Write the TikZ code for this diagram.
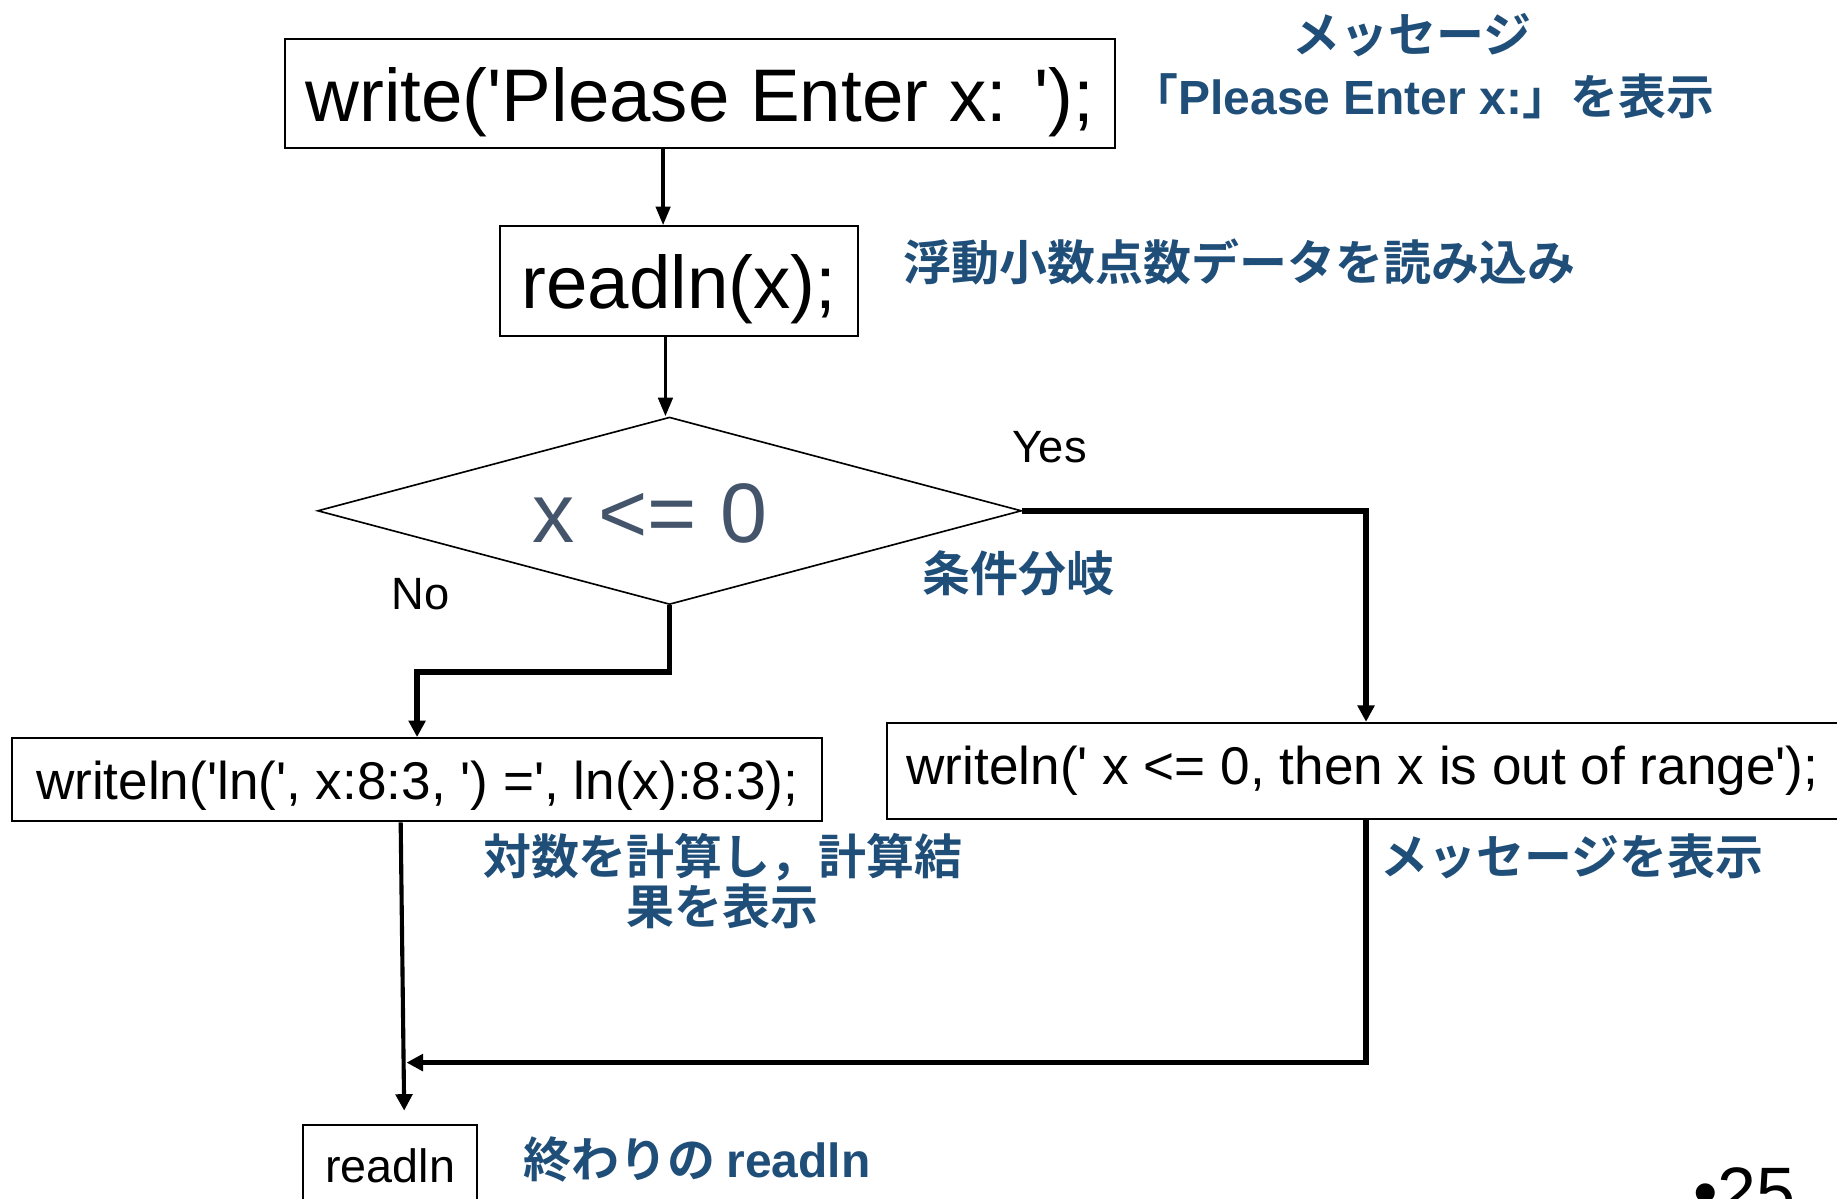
\documentclass[tikz,border=0pt]{standalone}
\usepackage{fontspec}
\setmainfont{Liberation Sans}
\newfontfamily\jpb{Noto Sans CJK JP Bold}
\usetikzlibrary{arrows.meta,shapes.geometric}
\definecolor{jblue}{HTML}{1F4E79}
\definecolor{slate}{HTML}{44546A}
\newcommand\q{\textquotesingle}
\newcommand\lb[1]{{\rmfamily\bfseries #1}}
\begin{document}
\begin{tikzpicture}[x=0.02cm,y=-0.02cm,
  box/.style={draw,line width=1pt,inner sep=0pt,align=center},
  big/.style={font=\fontsize{36.2}{40}\selectfont},
  mid/.style={font=\fontsize{25.8}{30}\selectfont},
  lbl/.style={font=\fontsize{22}{26}\selectfont,inner sep=0pt},
  note/.style={text=jblue,font=\jpb\fontsize{23.3}{24}\selectfont,inner sep=0pt,align=center},
  thinarrow/.style={-{Triangle[length=9pt,width=7pt]},line width=1.6pt},
  midarrow/.style={-{Triangle[length=8pt,width=8pt]},line width=2pt},
  thickarrow/.style={-{Triangle[length=8pt,width=8pt]},line width=2.8pt}]
\useasboundingbox (0,0) rectangle (1568,1023);
% boxes
\node[box,big,minimum width=14.18cm,minimum height=1.86cm,text height=27.9pt,text depth=0pt] (b1) at (597.5,79.5) {write(\q Please Enter x: \q);};
\node[box,big,minimum width=6.1cm,minimum height=1.88cm,text height=26.2pt,text depth=0pt] (b2) at (579.5,240) {readln(x);};
\node[draw,diamond,line width=0.8pt,minimum width=12.02cm,minimum height=3.2cm,inner sep=0pt] (dia) at (571.5,436) {};
\node[text=slate,font=\fontsize{41}{45}\selectfont,inner sep=0pt] (cond) at (555,438) {x <= 0};
\node[lbl] (yes) at (896,382) {Yes};
\node[lbl] (no) at (359,507) {No};
\node[box,mid,minimum width=13.84cm,minimum height=1.42cm,text height=18.8pt,text depth=0pt] (b4) at (356,665.5) {writeln(\q ln(\q, x:8:3, \q) =\q, ln(x):8:3);};
\node[box,mid,anchor=west,inner xsep=0.34cm,minimum height=1.64cm] (b3) at (756,658) {writeln(\q\ x <= 0, then x is out of range\q);};
\node[box,font=\fontsize{22.7}{26}\selectfont,minimum width=2.96cm,minimum height=1.4cm] (b5) at (333,995) {readln};
% notes
\node[note] (n1) at (1205,30) {メッセージ};
\node[note] (n2) at (1214,82) {「\lb{Please Enter x:}」を表示};
\node[note] (n3) at (1058,224) {浮動小数点数データを読み込み};
\node[note] (n4) at (869,489) {条件分岐};
\node[note] (n5) at (617,752) {対数を計算し，計算結\\果を表示};
\node[note] (n6) at (1342,731) {メッセージを表示};
\node[note] (n7) at (595,990) {終わりの \lb{readln}};
\node[font=\fontsize{34}{38}\selectfont,anchor=base west,inner sep=0pt] (pg) at (1445,1038) {•25};
% connectors
\coordinate (xa) at (566,0);
\coordinate (xb) at (568,0);
\coordinate (xy) at (1166,0);
\coordinate (xl) at (342,0);
\coordinate (end5) at (345,948);
\coordinate (merge) at (347,907);
\draw[thinarrow] (b1.south -| xa) -- (b2.north -| xa);
\draw[thinarrow] (b2.south -| xb) -- (dia.north -| xb);
\draw[thickarrow] (dia.east) -| (b3.north -| xy);
\draw[thickarrow] (dia.south) -- ++(0,57) -| (b4.north);
\draw[midarrow] (b4.south -| xl) -- (end5);
\draw[thickarrow] (b3.south -| xy) |- (merge);
\end{tikzpicture}
\end{document}
